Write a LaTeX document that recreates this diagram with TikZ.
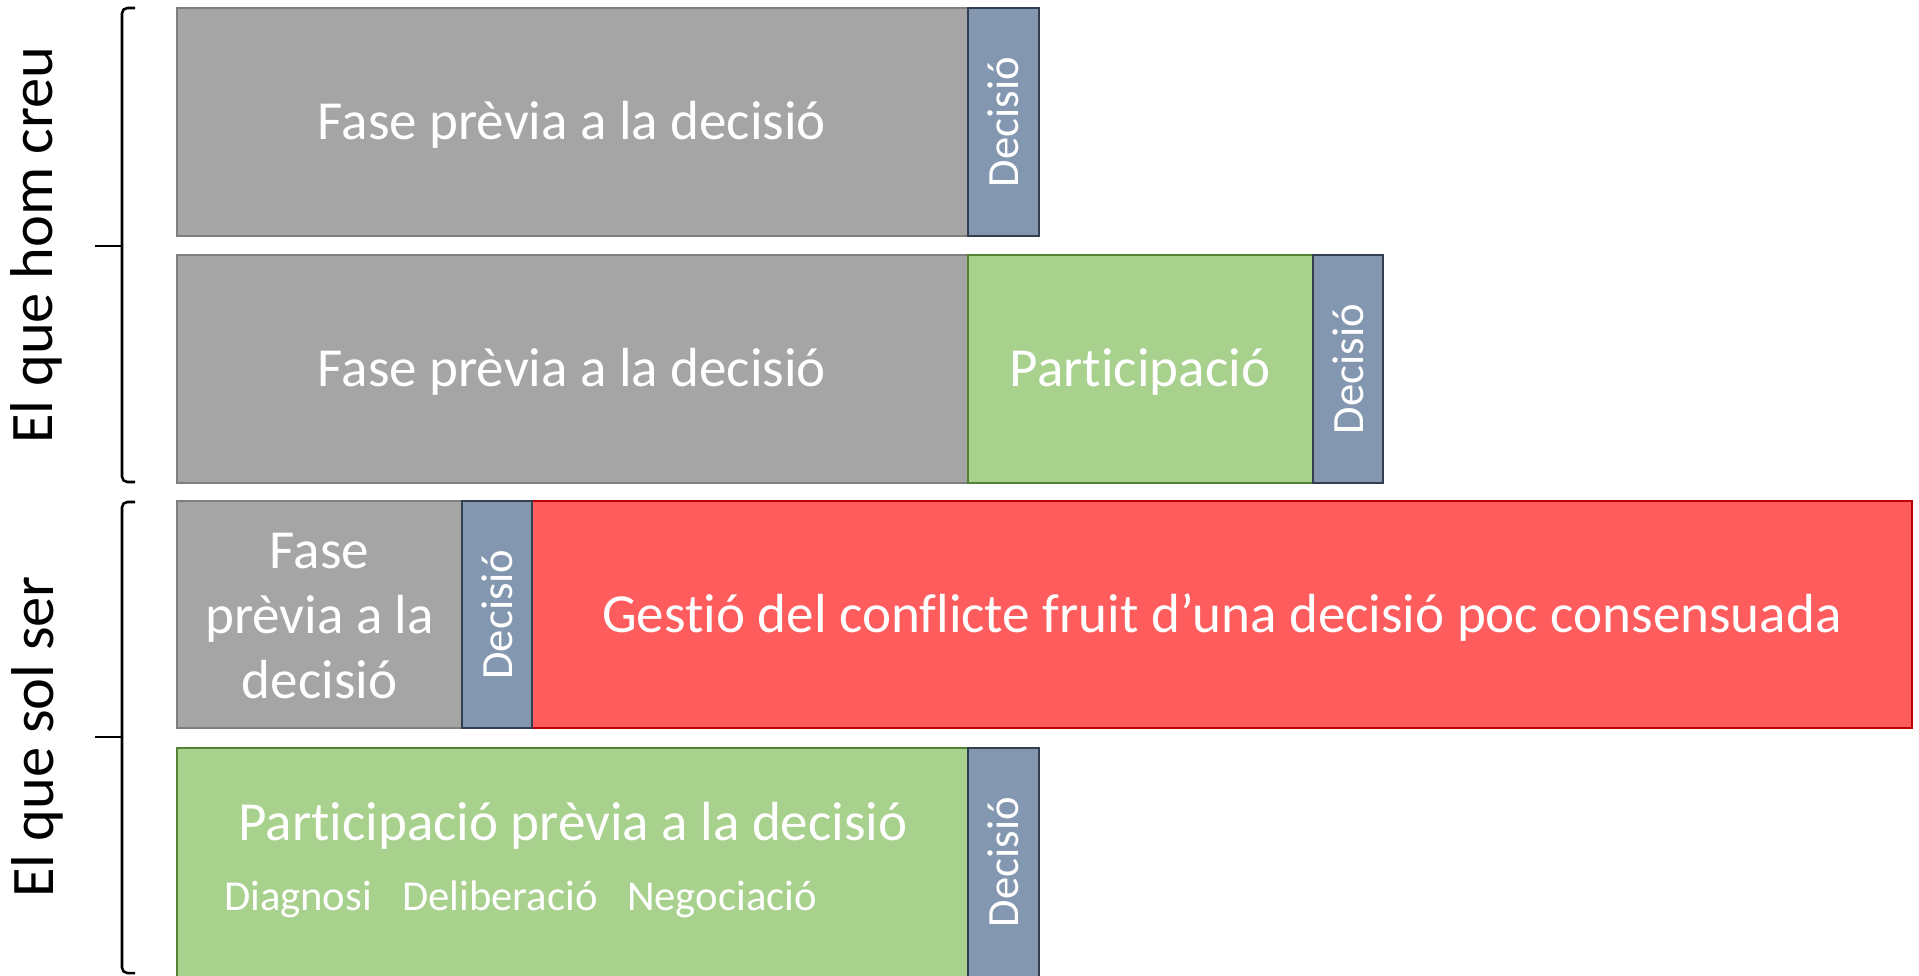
\documentclass[tikz,border=0pt]{standalone}
\usepackage{fontspec}
\setmainfont{Carlito}[Ligatures=NoCommon]
\usetikzlibrary{fit}
\definecolor{grayfill}{HTML}{A5A5A5}
\definecolor{grayline}{HTML}{7F7F7F}
\definecolor{decfill}{HTML}{8497B0}
\definecolor{decline}{HTML}{333F50}
\definecolor{greenfill}{HTML}{A9D18E}
\definecolor{greenline}{HTML}{548235}
\definecolor{redfill}{HTML}{FF5D5D}
\definecolor{redline}{HTML}{C00000}
\begin{document}
\begin{tikzpicture}[x=0.75pt,y=-0.75pt,
  box/.style={inner sep=0pt, line width=1.5pt},
  graybox/.style={box, fill=grayfill, draw=grayline},
  decbox/.style={box, fill=decfill, draw=decline},
  greenbox/.style={box, fill=greenfill, draw=greenline},
  redbox/.style={box, fill=redfill, draw=redline},
  maintext/.style={inner sep=0pt, text=white, font=\fontsize{41.3}{48.75}\selectfont, align=center},
  subtext/.style={inner sep=0pt, text=white, font=\fontsize{32}{38}\selectfont, anchor=base},
  dectext/.style={inner sep=0pt, text=white, rotate=90, font=\fontsize{33.5}{40}\selectfont},
  sidetext/.style={inner sep=0pt, text=black, rotate=90, anchor=base, font=\fontsize{45.3}{54}\selectfont},
  brace/.style={line width=1.9pt, black, rounded corners=4pt}
]
\useasboundingbox (0,0) rectangle (1919,975);

% Row 1
\node[graybox, fit={(177,8) (968,236)}] (g1) {};
\node[decbox, fit={(968,8) (1039,236)}] (d1) {};
\node[maintext, anchor=base] (t1) at (572,139) {Fase prèvia a la decisió};
\node[dectext] (dt1) at (d1.center) {Decisió};

% Row 2
\node[graybox, fit={(177,255) (968,483)}] (g2) {};
\node[greenbox, fit={(968,255) (1313,483)}] (p2) {};
\node[decbox, fit={(1313,255) (1383,483)}] (d2) {};
\node[maintext, anchor=base] (t2) at (572,386) {Fase prèvia a la decisió};
\node[maintext, anchor=base] (tp2) at (1140,386) {Participació};
\node[dectext] (dt2) at (d2.center) {Decisió};

% Row 3
\node[graybox, fit={(177,501) (462,728)}] (g3) {};
\node[redbox, fit={(532,501) (1912,728)}] (r3) {};
\node[decbox, fit={(462,501) (532,728)}] (d3) {};
\node[maintext] (t3) at (319.5,616) {Fase\\prèvia a la\\decisió};
\node[maintext, anchor=base] (tr3) at (1222,632) {Gestió del conflicte fruit d’una decisió poc consensuada};
\node[dectext] (dt3) at (d3.center) {Decisió};

% Row 4
\node[greenbox, fit={(177,748) (968,977)}] (p4) {};
\node[decbox, fit={(968,748) (1039,977)}] (d4) {};
\node[maintext, anchor=base] (t4) at (573,840) {Participació prèvia a la decisió};
\node[subtext] (s1) at (298,910) {Diagnosi};
\node[subtext] (s2) at (500,910) {Deliberació};
\node[subtext] (s3) at (722,910) {Negociació};
\node[dectext] (dt4) at (1003.5,862) {Decisió};

% Braces and side labels
\draw[brace] (135,8) -- (122,8) -- (122,482) -- (135,482);
\draw[line width=1.9pt] (122,246) -- (95,246);
\node[sidetext] (l1) at (52,245) {El que hom creu};

\draw[brace] (135,502) -- (122,502) -- (122,973) -- (135,973);
\draw[line width=1.9pt] (122,737) -- (95,737);
\node[sidetext] (l2) at (53,737) {El que sol ser};
\end{tikzpicture}
\end{document}
